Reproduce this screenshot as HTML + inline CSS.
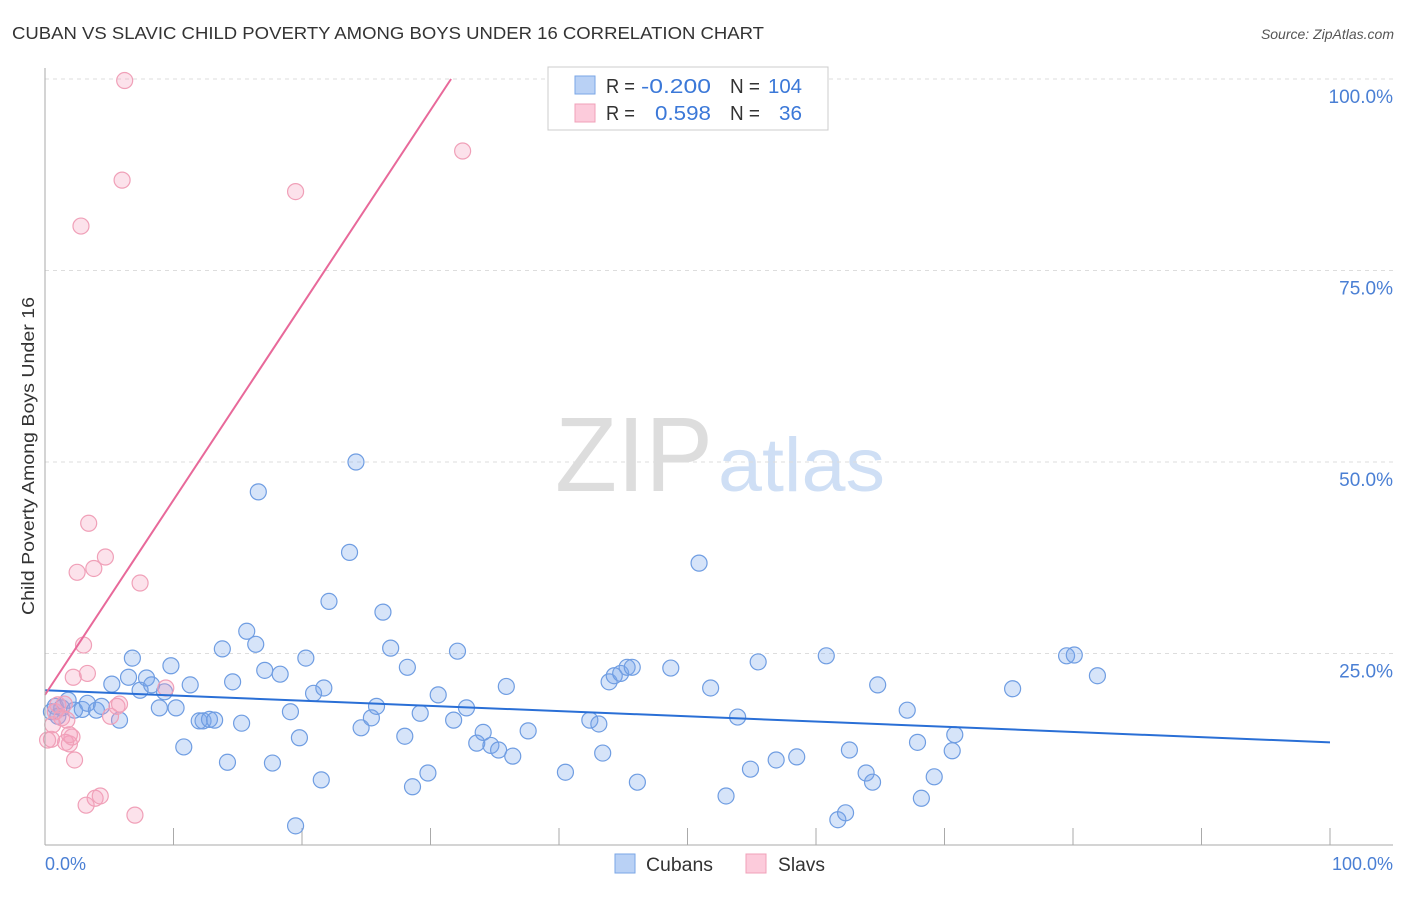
<!DOCTYPE html>
<html><head><meta charset="utf-8"><style>
body{margin:0;background:#fff;font-family:"Liberation Sans",sans-serif;}
svg text{font-family:"Liberation Sans",sans-serif;}
</style></head><body>
<svg id="chart" width="1406" height="892">
<text x="12" y="39" font-size="17.5" fill="#333" textLength="752" lengthAdjust="spacingAndGlyphs">CUBAN VS SLAVIC CHILD POVERTY AMONG BOYS UNDER 16 CORRELATION CHART</text>
<text x="1394" y="39" font-size="14" fill="#555" text-anchor="end" font-style="italic">Source: ZipAtlas.com</text>
<text x="34" y="456" font-size="17.5" fill="#333" text-anchor="middle" textLength="318" lengthAdjust="spacingAndGlyphs" transform="rotate(-90 34 456)">Child Poverty Among Boys Under 16</text>
<text x="555" y="491" font-size="106" fill="#ddd" textLength="158" lengthAdjust="spacingAndGlyphs" font-family="Liberation Serif">ZIP</text>
<text x="718" y="491" font-size="76" fill="#cfdff5" textLength="167" lengthAdjust="spacingAndGlyphs">atlas</text>
<g id="grid"></g><g id="pts"></g><g id="lines"></g>
<line x1="45" y1="68" x2="45" y2="845" stroke="#aaa"/>
<line x1="45" y1="845" x2="1393" y2="845" stroke="#aaa"/>
<text x="45" y="870" font-size="18" fill="#4a7fd4">0.0%</text>
<text x="1393" y="870" font-size="18" fill="#4a7fd4" text-anchor="end">100.0%</text>
<g>
<rect x="548" y="67" width="280" height="63" fill="#fff" stroke="#ccc"/>
<rect x="575" y="76" width="20" height="18" fill="#b9d1f5" stroke="#7aa6e6"/>
<rect x="575" y="104" width="20" height="18" fill="#fccbdb" stroke="#f0a0b8"/>
<text x="606" y="93" font-size="20" fill="#333" textLength="29" lengthAdjust="spacingAndGlyphs">R =</text>
<text x="641" y="93" font-size="20" fill="#3b78d8" textLength="70" lengthAdjust="spacingAndGlyphs">-0.200</text>
<text x="730" y="93" font-size="20" fill="#333" textLength="30" lengthAdjust="spacingAndGlyphs">N =</text>
<text x="768" y="93" font-size="20" fill="#3b78d8" textLength="34" lengthAdjust="spacingAndGlyphs">104</text>
<text x="606" y="120" font-size="20" fill="#333" textLength="29" lengthAdjust="spacingAndGlyphs">R =</text>
<text x="655" y="120" font-size="20" fill="#3b78d8" textLength="56" lengthAdjust="spacingAndGlyphs">0.598</text>
<text x="730" y="120" font-size="20" fill="#333" textLength="30" lengthAdjust="spacingAndGlyphs">N =</text>
<text x="779" y="120" font-size="20" fill="#3b78d8" textLength="23" lengthAdjust="spacingAndGlyphs">36</text>
</g>
<g><rect x="615" y="854" width="20" height="19" fill="#b9d1f5" stroke="#7aa6e6"/><text x="646" y="871" font-size="19" fill="#333" textLength="67" lengthAdjust="spacingAndGlyphs">Cubans</text></g>
<g><rect x="746" y="854" width="20" height="19" fill="#fccbdb" stroke="#f0a0b8"/><text x="778" y="871" font-size="19" fill="#333" textLength="47" lengthAdjust="spacingAndGlyphs">Slavs</text></g>
</svg>
<script>
const yTicks=[25,50,75,100];
const xTicks=[0,10,20,30,40,50,60,70,80,90,100];
const cubanX=[0.5,0.8,1.0,1.3,1.8,2.3,2.9,3.3,4.0,4.4,5.2,5.8,6.5,6.8,7.4,7.9,8.3,8.9,9.3,9.8,10.2,10.8,11.3,12.0,12.3,12.8,13.2,13.8,14.2,14.6,15.3,15.7,16.4,16.6,17.1,17.7,18.3,19.1,19.5,19.8,20.3,20.9,21.5,21.7,22.1,23.7,24.2,24.6,25.4,25.8,26.3,26.9,28.0,28.2,28.6,29.2,29.8,30.6,31.8,32.1,32.8,33.6,34.1,34.7,35.3,35.9,36.4,37.6,40.5,42.4,43.1,43.4,43.9,44.3,44.8,45.3,45.7,46.1,48.7,50.9,51.8,53.0,53.9,54.9,55.5,56.9,58.5,60.8,61.7,62.3,62.6,63.9,64.4,64.8,67.1,67.9,68.2,69.2,70.6,70.8,75.3,79.5,80.1,81.9];
const cubanY=[17.4,18.1,16.8,17.9,18.9,17.6,17.7,18.5,17.6,18.1,21.0,16.3,21.9,24.4,20.2,21.8,20.9,17.9,20.0,23.4,17.9,12.8,20.9,16.2,16.2,16.4,16.3,25.6,10.8,21.3,15.9,27.9,26.2,46.1,22.8,10.7,22.3,17.4,2.5,14.0,24.4,19.8,8.5,20.5,31.8,38.2,50.0,15.3,16.6,18.1,30.4,25.7,14.2,23.2,7.6,17.2,9.4,19.6,16.3,25.3,17.9,13.3,14.7,13.0,12.4,20.7,11.6,14.9,9.5,16.3,15.8,12.0,21.3,22.1,22.4,23.2,23.2,8.2,23.1,36.8,20.5,6.4,16.7,9.9,23.9,11.1,11.5,24.7,3.3,4.2,12.4,9.4,8.2,20.9,17.6,13.4,6.1,8.9,12.3,14.4,20.4,24.7,24.8,22.1];
const slavX=[0.5,0.8,1.0,1.3,1.5,1.7,1.9,2.1,2.3,2.2,2.5,2.8,3.0,3.3,3.4,3.8,3.9,4.3,4.7,3.2,5.1,5.6,5.8,6.0,6.2,7.0,7.4,9.4,19.5,32.5,0.2,0.6,1.6,1.9];
const slavY=[13.8,17.4,18.3,16.6,18.4,16.3,13.2,14.1,11.1,21.9,35.6,80.8,26.1,22.4,42.0,36.1,6.1,6.4,37.6,5.2,16.8,18.1,18.4,86.8,99.8,3.9,34.2,20.5,85.3,90.6,13.7,15.7,13.4,14.4];
const cubanTrend=[20.2,13.4];
const slavTrend=[19.6,100,31.6];
const ns="http://www.w3.org/2000/svg";
const X=v=>45+v*12.85, Y=v=>845-v*7.66;
function mk(t,a,p){const e=document.createElementNS(ns,t);for(const k in a)e.setAttribute(k,a[k]);p.appendChild(e);return e;}
const grid=document.getElementById('grid');
yTicks.forEach(t=>{
 const l=mk('line',{x1:45,x2:1393,y1:Y(t),y2:Y(t),stroke:'#ddd','stroke-dasharray':'4 4'},grid);
 
 
 const tx=mk('text',{x:1393,y:Y(t)+24,'font-size':19,fill:'#4a7fd4','text-anchor':'end'},grid);
 tx.textContent=t.toFixed(1)+'%';
 
 
});
xTicks.forEach(t=>{
 const l=mk('line',{x1:X(t),x2:X(t),y1:828,y2:845,stroke:'#aaa'},grid);
 
 
});
const pts=document.getElementById('pts');
cubanX.forEach((x,i)=>{
 const c=mk('circle',{cx:X(x),cy:Y(cubanY[i]),r:8,fill:'rgba(120,165,235,0.3)',stroke:'#6f9de2','stroke-width':1.2},pts);
 
 
});
slavX.forEach((x,i)=>{
 const c=mk('circle',{cx:X(x),cy:Y(slavY[i]),r:8,fill:'rgba(245,160,190,0.3)',stroke:'#f0a0b8','stroke-width':1.2},pts);
 
 
});
const lines=document.getElementById('lines');
const bl=mk('line',{x1:X(0),y1:Y(cubanTrend[0]),x2:X(100),y2:Y(cubanTrend[1]),stroke:'#2a6fd6','stroke-width':2},lines);


const pl=mk('line',{x1:X(0),y1:Y(slavTrend[0]),x2:X(slavTrend[2]),y2:Y(slavTrend[1]),stroke:'#e8699a','stroke-width':2},lines);


</script>
</body></html>
